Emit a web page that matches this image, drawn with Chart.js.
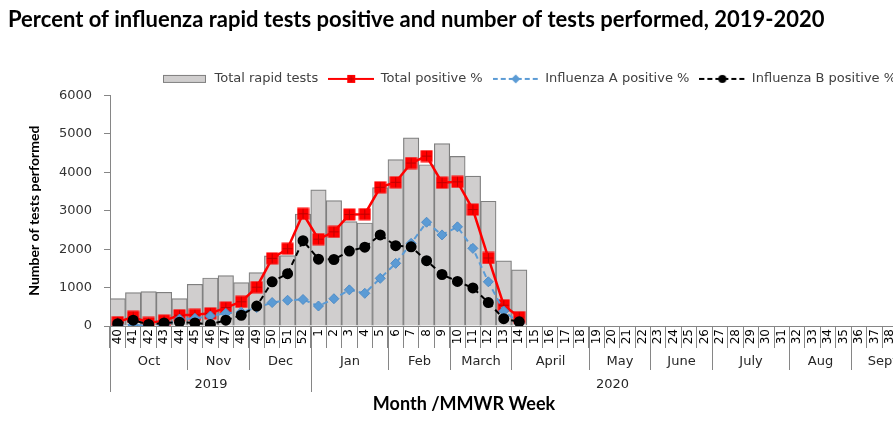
<!DOCTYPE html>
<html>
<head>
<meta charset="utf-8">
<script src="https://cdn.jsdelivr.net/npm/chart.js@4"></script>
<style>
    html, body { margin: 0; padding: 0; background: #fff; overflow: hidden; }
    #wrap { width: 1050px; height: 436px; position: relative; }
</style>
</head>
<body>
<div id="wrap"><canvas id="chartFlu"></canvas></div>
<script>
const weeks = ['40', '41', '42', '43', '44', '45', '46', '47', '48', '49', '50', '51', '52',
    '1', '2', '3', '4', '5', '6', '7', '8', '9', '10', '11', '12', '13', '14', '15', '16', '17', '18',
    '19', '20', '21', '22', '23', '24', '25', '26', '27', '28', '29', '30', '31', '32', '33', '34', '35',
    '36', '37', '38', '39'];

const monthNames = ['Oct', 'Nov', 'Dec', 'Jan', 'Feb', 'March', 'April', 'May', 'June', 'July', 'Aug', 'Sept'];
const monthWeekCounts = [5, 4, 4, 5, 4, 4, 5, 4, 4, 5, 4, 4];
const yearNames = ['2019', '2020'];
const yearWeekCounts = [13, 39];

const yTicks = [0, 1000, 2000, 3000, 4000, 5000, 6000];

const totalTests = [711, 868, 894, 876, 711, 1085, 1250, 1312, 1129, 1390, 1825, 1830, 2915,
    3542, 3263, 2714, 2680, 3603, 4327, 4894, 4196, 4745, 4414, 3900, 3247, 1694, 1459];
const totalPositive = [1.0, 2.4, 0.8, 1.4, 2.8, 2.9, 3.3, 4.8, 6.3, 10.1, 17.6, 20.1, 29.2,
    22.6, 24.5, 29.0, 29.1, 36.1, 37.4, 42.4, 44.2, 37.3, 37.5, 30.3, 17.7, 5.4, 2.3];
const fluAPositive = [0.2, 0.3, 0.0, 0.1, 1.8, 2.0, 2.6, 3.3, 3.6, 4.8, 6.1, 6.7, 6.9,
    5.2, 7.1, 9.4, 8.5, 12.4, 16.3, 21.5, 27.0, 23.7, 25.8, 20.2, 11.5, 3.9, 0.8];
const fluBPositive = [0.6, 1.5, 0.4, 0.8, 1.0, 0.8, 0.4, 1.5, 2.8, 5.2, 11.5, 13.6, 22.2,
    17.4, 17.3, 19.5, 20.5, 23.7, 20.9, 20.6, 17.0, 13.4, 11.6, 9.9, 6.1, 1.9, 1.1];

const xTitle = 'Month /MMWR Week';

const colors = {
    barFill: '#d0cece',
    barBorder: '#7f7f7f',
    red: '#ff0000',
    redDark: '#c00000',
    blue: '#5b9bd5',
    black: '#000000',
    axis: '#868686',
    text: '#262626',
};

function makeCanvas(w, h, draw) {
    const c = document.createElement('canvas');
    c.width = w;
    c.height = h;
    draw(c.getContext('2d'), w, h);
    return c;
}

function drawSquare(ctx, cx, cy, s) {
    ctx.fillStyle = colors.red;
    ctx.fillRect(cx - s / 2, cy - s / 2, s, s);
    ctx.strokeStyle = colors.redDark;
    ctx.lineWidth = 1;
    ctx.beginPath();
    ctx.moveTo(cx, cy - s / 2 + 1);
    ctx.lineTo(cx, cy + s / 2 - 1);
    ctx.moveTo(cx - s / 2 + 1, cy);
    ctx.lineTo(cx + s / 2 - 1, cy);
    ctx.stroke();
}

const redMarker = makeCanvas(13, 13, (ctx) => drawSquare(ctx, 6.5, 6.5, 12));

function lineIcon(color, dash, marker) {
    return makeCanvas(46, 12, (ctx, w, h) => {
        ctx.strokeStyle = color;
        ctx.lineWidth = 2;
        ctx.setLineDash(dash);
        ctx.beginPath();
        ctx.moveTo(0, h / 2);
        ctx.lineTo(w, h / 2);
        ctx.stroke();
        ctx.setLineDash([]);
        marker(ctx, w / 2, h / 2);
    });
}

const legendIcons = [
    makeCanvas(46, 12, (ctx) => {
        ctx.fillStyle = colors.barFill;
        ctx.fillRect(1, 2, 43, 8);
        ctx.strokeStyle = colors.barBorder;
        ctx.lineWidth = 1;
        ctx.strokeRect(1.5, 2.5, 42, 7);
    }),
    lineIcon(colors.red, [], (ctx, x, y) => drawSquare(ctx, x, y, 8)),
    lineIcon(colors.blue, [5, 3], (ctx, x, y) => {
        ctx.fillStyle = colors.blue;
        ctx.beginPath();
        ctx.moveTo(x, y - 4.5);
        ctx.lineTo(x + 4.5, y);
        ctx.lineTo(x, y + 4.5);
        ctx.lineTo(x - 4.5, y);
        ctx.closePath();
        ctx.fill();
    }),
    lineIcon(colors.black, [5, 3], (ctx, x, y) => {
        ctx.fillStyle = colors.black;
        ctx.beginPath();
        ctx.arc(x, y, 4, 0, Math.PI * 2);
        ctx.fill();
    }),
];

// month and year rows under the week labels, plus the axis title
const axisRows = {
    id: 'axisRows',
    afterDraw(chart) {
        const scale = chart.scales.x;
        const ctx = chart.ctx;
        const top = scale.top;
        const step = scale.getPixelForValue(1) - scale.getPixelForValue(0);
        const edge = (i) => Math.round(scale.getPixelForValue(i) - step / 2) + 0.5;

        ctx.save();
        ctx.strokeStyle = colors.axis;
        ctx.lineWidth = 1;
        ctx.fillStyle = colors.text;
        ctx.font = '13px "DejaVu Sans"';
        ctx.textAlign = 'center';
        ctx.textBaseline = 'middle';

        const vline = (x, y0, y1) => {
            ctx.beginPath();
            ctx.moveTo(x, y0);
            ctx.lineTo(x, y1);
            ctx.stroke();
        };

        let i = 0;
        monthNames.forEach((name, k) => {
            const a = edge(i);
            const b = edge(i + monthWeekCounts[k]);
            vline(a, top, top + 44);
            ctx.fillText(name, (a + b) / 2, top + 36);
            i += monthWeekCounts[k];
        });
        vline(edge(i), top, top + 44);

        i = 0;
        yearNames.forEach((name, k) => {
            const a = edge(i);
            const b = edge(i + yearWeekCounts[k]);
            vline(a, top, top + 66);
            ctx.fillText(name, (a + b) / 2, top + 59);
            i += yearWeekCounts[k];
        });
        vline(edge(i), top, top + 66);

        ctx.fillStyle = '#000';
        ctx.font = 'bold 18px Lato';
        ctx.fillText(xTitle, 464, top + 78);
        ctx.restore();
    },
};

new Chart(document.getElementById('chartFlu'), {
    data: {
        labels: weeks,
        datasets: [
            {
                type: 'bar',
                label: 'Total rapid tests',
                data: totalTests,
                backgroundColor: colors.barFill,
                borderColor: colors.barBorder,
                borderWidth: 1.2,
                barPercentage: 1,
                categoryPercentage: 1,
                yAxisID: 'y',
                order: 4,
            },
            {
                type: 'line',
                label: 'Total positive %',
                data: totalPositive,
                borderColor: colors.red,
                borderWidth: 2.5,
                pointStyle: redMarker,
                yAxisID: 'y1',
                order: 3,
            },
            {
                type: 'line',
                label: 'Influenza A positive %',
                data: fluAPositive,
                borderColor: colors.blue,
                borderWidth: 2,
                borderDash: [6, 4],
                pointStyle: 'rectRot',
                pointRadius: 5,
                pointBackgroundColor: colors.blue,
                pointBorderColor: '#4f8cc6',
                pointBorderWidth: 1,
                yAxisID: 'y1',
                order: 2,
            },
            {
                type: 'line',
                label: 'Influenza B positive %',
                data: fluBPositive,
                borderColor: colors.black,
                borderWidth: 2,
                borderDash: [6, 4],
                pointStyle: 'circle',
                pointRadius: 4.5,
                pointBackgroundColor: colors.black,
                pointBorderColor: colors.black,
                yAxisID: 'y1',
                order: 1,
            },
        ],
    },
    options: {
        responsive: true,
        maintainAspectRatio: false,
        animation: false,
        layout: { padding: { left: 8, right: 0, top: 0, bottom: 0 } },
        plugins: {
            tooltip: { enabled: false },
            title: {
                display: true,
                text: 'Percent of influenza rapid tests positive and number of tests performed, 2019-2020',
                align: 'start',
                color: '#000',
                font: { family: 'Lato', size: 22, weight: 'bold' },
                padding: { top: 7, bottom: 29 },
            },
            legend: {
                position: 'top',
                align: 'center',
                labels: {
                    usePointStyle: true,
                    pointStyleWidth: 46,
                    boxHeight: 15,
                    padding: 10,
                    color: '#404040',
                    font: { family: 'DejaVu Sans', size: 13 },
                    sort: (a, b) => a.datasetIndex - b.datasetIndex,
                    generateLabels(chart) {
                        const items = Chart.defaults.plugins.legend.labels.generateLabels(chart);
                        return items.map((item) => ({ ...item, pointStyle: legendIcons[item.datasetIndex] }));
                    },
                },
            },
        },
        scales: {
            x: {
                type: 'category',
                afterFit(scale) { scale.height = 110; },
                border: { color: colors.axis },
                grid: {
                    offset: true,
                    drawOnChartArea: false,
                    tickLength: 22,
                    color: colors.axis,
                },
                ticks: {
                    autoSkip: false,
                    minRotation: 90,
                    maxRotation: 90,
                    padding: -19,
                    color: '#000',
                    font: { family: 'DejaVu Sans', size: 12 },
                },
            },
            y: {
                position: 'left',
                min: 0,
                max: 6000,
                afterFit(scale) { scale.width = 102; },
                afterBuildTicks(scale) { scale.ticks = yTicks.map((v) => ({ value: v })); },
                border: { color: colors.axis },
                grid: {
                    drawOnChartArea: false,
                    tickLength: 6,
                    color: colors.axis,
                },
                ticks: {
                    padding: 12,
                    color: '#333',
                    font: { family: 'DejaVu Sans', size: 13 },
                    callback: (v) => String(v),
                },
                title: {
                    display: true,
                    text: 'Number of tests performed',
                    color: '#000',
                    font: { family: 'Lato', size: 14, weight: 'bold' },
                    padding: { top: 18, bottom: 0 },
                },
            },
            y1: {
                position: 'right',
                min: 0,
                max: 60,
                afterFit(scale) { scale.width = 137; },
                border: { display: false },
                grid: { display: false },
                ticks: { display: false },
            },
        },
    },
    plugins: [axisRows],
});
</script>
</body>
</html>
